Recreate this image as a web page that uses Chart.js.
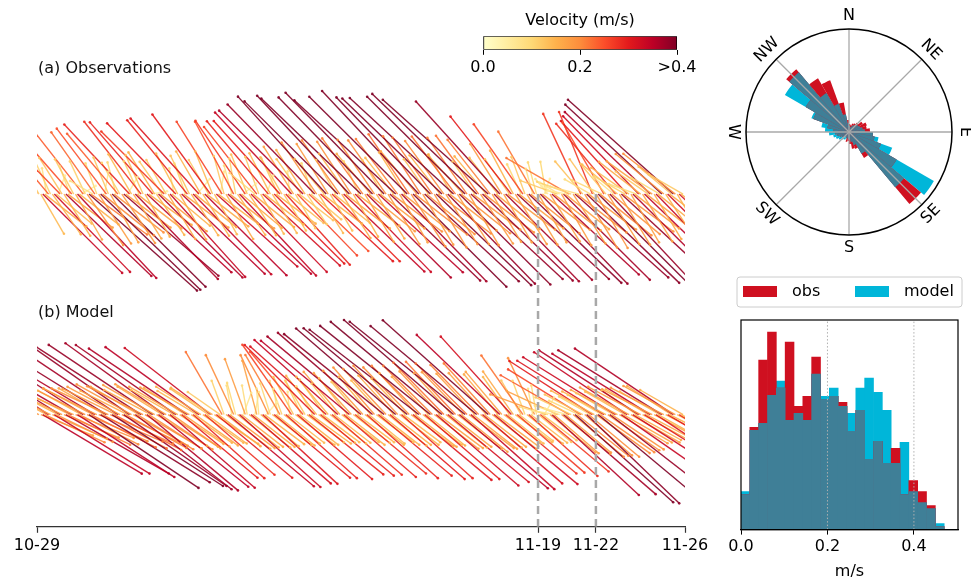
<!DOCTYPE html>
<html>
<head>
<meta charset="utf-8">
<title>Currents: observations vs model</title>
<script src="https://cdn.jsdelivr.net/npm/chart.js@4.4.1/dist/chart.umd.min.js"></script>
<style>
  html, body { margin: 0; padding: 0; background: #fff; }
  #page { position: relative; width: 971px; height: 581px; overflow: hidden; }
  #page canvas { position: absolute; }
</style>
</head>
<body>
<div id="page">
  <canvas id="sticks" width="715" height="581" style="left:0;top:0"></canvas>
  <canvas id="cbar" width="290" height="90" style="left:440px;top:0"></canvas>
  <canvas id="rose" width="251" height="265" style="left:720px;top:0"></canvas>
  <canvas id="hist" width="251" height="311" style="left:720px;top:270px"></canvas>
</div>
<script>
// sticks every 2 h from 10-29 00:00
var stepDays = 2 / 24;
var tickDays = [0, 21.65, 24.15, 28];
var tickLabels = ['10-29', '11-19', '11-22', '11-26'];
var markerDays = [21.65, 24.15];
var panelTitles = ['(a) Observations', '(b) Model'];

// speed (m/s) and direction (deg toward, clockwise from N), one row per day
var obsSpeed = [
    .25, .12, .14, .34, .16, .08, .24, .11, .15, .33, .14, .06,
    .26, .13, .15, .36, .17, .09, .25, .12, .16, .35, .15, .05,
    .24, .11, .19, .44, .21, .08, .23, .10, .18, .42, .20, .07,
    .25, .12, .17, .40, .19, .10, .24, .11, .18, .38, .17, .06,
    .29, .14, .16, .36, .17, .11, .28, .13, .15, .35, .16, .05,
    .29, .15, .15, .36, .18, .12, .27, .12, .16, .34, .15, .08,
    .30, .14, .16, .35, .17, .10, .29, .13, .15, .34, .16, .06,
    .31, .15, .15, .35, .16, .12, .30, .14, .14, .33, .15, .07,
    .26, .12, .16, .35, .17, .09, .25, .11, .15, .34, .16, .05,
    .27, .13, .15, .33, .16, .10, .26, .12, .14, .32, .15, .06,
    .29, .14, .14, .30, .15, .12, .30, .13, .13, .29, .14, .07,
    .34, .17, .12, .26, .13, .13, .36, .16, .11, .25, .12, .10,
    .38, .19, .14, .30, .15, .14, .40, .18, .13, .29, .14, .12,
    .40, .20, .16, .34, .17, .15, .41, .19, .15, .33, .16, .11,
    .42, .21, .17, .36, .18, .16, .41, .20, .16, .35, .17, .12,
    .43, .20, .18, .38, .19, .14, .42, .21, .17, .37, .18, .15,
    .42, .22, .19, .40, .20, .17, .43, .21, .18, .39, .19, .13,
    .41, .21, .19, .40, .20, .15, .42, .20, .18, .38, .18, .14,
    .43, .22, .18, .39, .19, .16, .42, .21, .18, .38, .18, .12,
    .44, .22, .18, .38, .19, .15, .43, .21, .17, .37, .17, .14,
    .38, .18, .17, .37, .18, .13, .30, .15, .18, .38, .17, .10,
    .26, .12, .18, .39, .19, .08, .22, .10, .17, .38, .18, .05,
    .10, .06, .17, .36, .18, .05, .12, .07, .18, .37, .17, .06,
    .22, .11, .18, .38, .19, .09, .27, .13, .19, .39, .18, .09,
    .27, .13, .19, .40, .20, .10, .25, .12, .18, .38, .19, .08,
    .28, .14, .18, .38, .19, .11, .30, .14, .17, .36, .17, .09,
    .33, .16, .17, .35, .17, .12, .36, .17, .16, .34, .16, .10,
    .40, .19, .16, .33, .16, .13, .43, .20, .15, .32, .15, .12
];
var obsDir = [
    318, 330, 150, 135, 128, 350, 320, 335, 145, 136, 130, 20,
    316, 328, 148, 134, 127, 340, 319, 332, 150, 137, 128, 60,
    322, 335, 145, 132, 126, 300, 325, 340, 147, 134, 129, 10,
    323, 338, 150, 135, 128, 345, 320, 330, 146, 131, 127, 30,
    317, 330, 148, 136, 128, 335, 322, 336, 150, 133, 126, 80,
    319, 328, 146, 135, 129, 325, 315, 330, 149, 138, 130, 350,
    316, 332, 150, 134, 127, 340, 321, 334, 147, 136, 129, 40,
    318, 330, 148, 135, 128, 330, 324, 338, 151, 132, 127, 10,
    328, 345, 149, 134, 128, 345, 332, 350, 146, 137, 130, 50,
    326, 338, 147, 136, 129, 310, 322, 340, 150, 133, 128, 20,
    320, 333, 148, 135, 127, 335, 318, 330, 149, 138, 129, 355,
    317, 328, 150, 136, 128, 325, 315, 327, 147, 134, 130, 340,
    316, 326, 148, 133, 127, 320, 318, 328, 149, 135, 129, 330,
    315, 325, 147, 134, 128, 325, 317, 327, 150, 136, 127, 335,
    314, 324, 149, 135, 129, 320, 316, 326, 148, 133, 128, 330,
    316, 325, 148, 134, 127, 322, 313, 323, 150, 136, 129, 328,
    315, 326, 147, 135, 128, 320, 317, 327, 149, 133, 130, 325,
    316, 325, 149, 134, 127, 322, 314, 324, 148, 136, 128, 330,
    313, 323, 148, 135, 129, 318, 315, 325, 150, 133, 127, 326,
    314, 324, 147, 134, 128, 320, 312, 322, 149, 136, 129, 322,
    318, 328, 150, 135, 127, 325, 322, 332, 148, 133, 128, 335,
    325, 340, 149, 134, 129, 345, 330, 345, 150, 136, 127, 20,
    350, 320, 148, 133, 128, 300, 290, 300, 150, 135, 129, 280,
    300, 290, 147, 132, 128, 285, 335, 320, 149, 134, 127, 300,
    338, 325, 150, 135, 129, 295, 330, 320, 148, 137, 130, 310,
    320, 310, 149, 133, 127, 300, 318, 305, 150, 135, 128, 290,
    316, 308, 148, 134, 128, 305, 314, 306, 149, 136, 129, 300,
    313, 310, 147, 135, 127, 310, 312, 308, 150, 134, 128, 300
];
var modSpeed = [
    .36, .18, .17, .35, .20, .16, .35, .17, .18, .34, .19, .15,
    .37, .18, .18, .36, .21, .16, .36, .17, .19, .35, .20, .15,
    .37, .19, .20, .40, .22, .17, .36, .18, .21, .39, .22, .16,
    .38, .19, .21, .40, .23, .18, .37, .18, .20, .38, .21, .16,
    .38, .19, .19, .37, .20, .17, .38, .19, .20, .36, .19, .16,
    .38, .18, .18, .35, .19, .16, .37, .18, .18, .34, .18, .15,
    .37, .17, .16, .30, .17, .15, .36, .17, .15, .29, .16, .14,
    .35, .16, .15, .28, .15, .14, .33, .15, .16, .30, .16, .12,
    .22, .11, .17, .34, .17, .09, .20, .10, .16, .33, .16, .07,
    .18, .09, .16, .32, .16, .07, .17, .08, .15, .31, .15, .05,
    .20, .10, .15, .30, .15, .08, .21, .11, .14, .29, .14, .07,
    .26, .13, .15, .30, .15, .11, .25, .12, .14, .29, .15, .10,
    .30, .15, .14, .29, .14, .13, .31, .15, .14, .28, .14, .12,
    .34, .17, .14, .29, .15, .14, .35, .17, .14, .28, .14, .13,
    .37, .18, .15, .29, .14, .15, .38, .19, .14, .29, .15, .14,
    .39, .19, .15, .30, .15, .16, .40, .20, .15, .29, .14, .15,
    .41, .20, .16, .31, .16, .17, .42, .21, .15, .30, .15, .16,
    .43, .21, .17, .33, .17, .18, .44, .22, .16, .32, .16, .17,
    .44, .22, .17, .35, .18, .18, .45, .22, .17, .34, .17, .17,
    .42, .21, .16, .32, .16, .17, .43, .21, .17, .33, .16, .16,
    .35, .17, .14, .28, .14, .14, .32, .16, .14, .27, .13, .12,
    .22, .11, .14, .28, .14, .08, .19, .09, .13, .27, .13, .06,
    .18, .09, .18, .36, .18, .07, .17, .08, .19, .37, .18, .07,
    .24, .12, .20, .40, .20, .10, .26, .13, .19, .39, .20, .11,
    .30, .15, .20, .40, .20, .12, .31, .15, .19, .38, .19, .13,
    .33, .16, .17, .34, .17, .14, .34, .17, .17, .33, .16, .13,
    .36, .18, .16, .31, .16, .15, .35, .17, .16, .31, .15, .14,
    .37, .18, .15, .30, .15, .16, .36, .18, .15, .29, .14, .15
];
var modDir = [
    301, 295, 112, 121, 115, 298, 303, 296, 114, 122, 116, 297,
    302, 296, 113, 120, 116, 297, 300, 294, 112, 123, 117, 299,
    303, 297, 114, 124, 117, 298, 301, 296, 113, 122, 118, 300,
    302, 295, 115, 123, 118, 296, 304, 298, 116, 125, 119, 297,
    305, 299, 120, 128, 122, 300, 303, 297, 121, 130, 123, 298,
    304, 300, 122, 129, 124, 302, 306, 301, 123, 131, 125, 300,
    305, 300, 124, 130, 125, 303, 304, 299, 125, 132, 126, 301,
    306, 302, 125, 131, 126, 304, 308, 303, 124, 130, 127, 305,
    330, 340, 128, 130, 127, 350, 335, 345, 129, 132, 128, 20,
    340, 350, 129, 131, 128, 10, 345, 355, 130, 133, 127, 40,
    335, 342, 128, 130, 129, 350, 330, 340, 129, 132, 128, 355,
    325, 332, 128, 131, 128, 335, 320, 330, 127, 129, 126, 330,
    315, 322, 128, 130, 127, 325, 312, 320, 129, 131, 128, 322,
    312, 320, 127, 131, 128, 322, 310, 318, 128, 130, 127, 320,
    310, 318, 128, 132, 129, 320, 311, 319, 127, 130, 128, 318,
    309, 317, 129, 131, 128, 318, 311, 318, 128, 132, 127, 317,
    310, 316, 127, 130, 128, 318, 308, 315, 128, 131, 129, 316,
    309, 315, 128, 131, 127, 317, 310, 316, 129, 130, 128, 318,
    311, 317, 128, 130, 129, 316, 309, 315, 127, 132, 128, 317,
    310, 316, 129, 131, 128, 318, 312, 318, 128, 130, 127, 320,
    314, 320, 128, 130, 129, 325, 318, 325, 127, 131, 128, 330,
    325, 340, 129, 132, 128, 350, 335, 350, 130, 130, 127, 30,
    290, 285, 130, 133, 131, 280, 295, 290, 129, 131, 130, 285,
    300, 296, 130, 132, 129, 295, 302, 298, 131, 134, 130, 300,
    303, 299, 126, 130, 125, 300, 302, 298, 125, 128, 124, 300,
    302, 298, 121, 125, 120, 300, 304, 299, 120, 123, 119, 305,
    303, 298, 119, 122, 118, 301, 302, 297, 118, 124, 119, 300,
    302, 297, 118, 121, 117, 303, 304, 299, 119, 122, 118, 300
];

// colorbar
var cbarTicks = [0, 0.2, 0.4];
var cbarLabels = ['0.0', '0.2', '>0.4'];

// rose, 36 sectors of 10 deg clockwise from N
var roseObs = [8, 7, 9, 10, 12, 16, 19, 18, 21, 24, 26, 34, 55, 94, 30, 18, 17, 12,
               9, 10, 6, 5, 6, 8, 10, 12, 14, 16, 22, 38, 50, 82, 62, 55, 30, 12];
var roseModel = [6, 5, 6, 8, 9, 11, 12, 14, 16, 24, 30, 46, 98, 72, 25, 14, 10, 8,
                 7, 6, 8, 9, 10, 12, 14, 16, 20, 24, 28, 40, 74, 78, 45, 30, 18, 9];
var compassLabels = ['N', 'NE', 'E', 'SE', 'S', 'SW', 'W', 'NW'];

// speed histogram, 23 bins from 0 to 0.47 m/s
var histObs = [35, 102, 169, 197, 141, 187, 123, 133, 172, 130, 133, 127,
               98, 119, 70, 88, 66, 81, 35, 49, 38, 24, 3];
var histModel = [38, 99, 106, 134, 148, 109, 116, 109, 155, 133, 141, 123,
                 116, 141, 151, 137, 119, 66, 87, 38, 27, 21, 6];
var histTicks = [0, 0.2, 0.4];
var histGuides = [0.2, 0.4];

var RED = '#cf1020', CYAN = '#00b6d9', TEAL = '#3f7f97';
var ylorrd = ['#ffffcc', '#ffeda0', '#fed976', '#feb24c', '#fd8d3c', '#fc4e2a', '#e31a1c', '#bd0026', '#800026'];

Chart.defaults.font.family = 'DejaVu Sans';
Chart.defaults.font.size = 16;
Chart.defaults.color = '#000';

function hexRgb(h) {
    return [parseInt(h.substr(1, 2), 16), parseInt(h.substr(3, 2), 16), parseInt(h.substr(5, 2), 16)];
}

function speedColor(s, alpha) {
    var f = Math.min(Math.max(s / 0.4, 0), 1) * (ylorrd.length - 1);
    var i = Math.min(Math.floor(f), ylorrd.length - 2), w = f - i;
    var a = hexRgb(ylorrd[i]), b = hexRgb(ylorrd[i + 1]);
    var rgb = [0, 1, 2].map(function (k) { return Math.round(a[k] + (b[k] - a[k]) * w); });
    return 'rgba(' + rgb.join(',') + ',' + alpha + ')';
}

// ---- stick plots ----
var K = 330;                 // px per m/s on both axes
var PX_PER_DAY = 648 / 28;
var Y_MAX = 470 / K;
var obsBase = 335 / K, modBase = 113 / K;

function buildSticks(speed, dir, base) {
    var pts = [], cols = [];
    for (var i = 0; i < speed.length; i++) {
        var t = i * stepDays, r = dir[i] * Math.PI / 180;
        var east = speed[i] * Math.sin(r), north = speed[i] * Math.cos(r);
        pts.push({ x: t, y: base }, { x: t + east * K / PX_PER_DAY, y: base + north }, { x: t, y: null });
        cols.push(speedColor(speed[i], 0.9));
    }
    return { pts: pts, cols: cols };
}

function stickDataset(s) {
    return {
        data: s.pts,
        order: 1,
        borderWidth: 1.4,
        borderColor: '#800026',
        spanGaps: false,
        tension: 0,
        pointRadius: function (c) { return c.dataIndex % 3 === 1 ? 1.3 : 0; },
        pointBackgroundColor: function (c) { return s.cols[Math.floor(c.dataIndex / 3)]; },
        pointBorderWidth: 0,
        segment: {
            borderColor: function (c) { return s.cols[Math.floor(c.p0DataIndex / 3)]; }
        }
    };
}

var markerSets = markerDays.map(function (d) {
    return {
        data: [{ x: d, y: obsBase }, { x: d, y: 0 }],
        borderColor: '#a8a8a8',
        borderWidth: 2.5,
        borderDash: [8, 5],
        pointRadius: 0,
        order: 0
    };
});

var panelLabels = {
    id: 'panelLabels',
    afterDraw: function (chart) {
        var c = chart.ctx;
        c.save();
        c.font = '16px "DejaVu Sans"';
        c.fillStyle = '#111';
        c.fillText(panelTitles[0], 38, 73);
        c.fillText(panelTitles[1], 38, 317);
        c.restore();
    }
};

new Chart(document.getElementById('sticks'), {
    type: 'line',
    data: {
        datasets: [
            stickDataset(buildSticks(obsSpeed, obsDir, obsBase)),
            stickDataset(buildSticks(modSpeed, modDir, modBase))
        ].concat(markerSets)
    },
    options: {
        responsive: false,
        animation: false,
        layout: { padding: { left: 37, right: 30, top: 60, bottom: 23 } },
        plugins: { legend: { display: false }, tooltip: { enabled: false } },
        scales: {
            x: {
                type: 'linear',
                min: 0,
                max: 28,
                afterBuildTicks: function (s) {
                    s.ticks = tickDays.map(function (v) { return { value: v }; });
                },
                ticks: {
                    autoSkip: false,
                    maxRotation: 0,
                    padding: 3,
                    callback: function (v, i) { return tickLabels[i]; }
                },
                grid: { drawOnChartArea: false, tickLength: 6, color: '#333', tickWidth: 1.2 },
                border: { display: true, color: '#333', width: 1.3 }
            },
            y: { display: false, min: 0, max: Y_MAX }
        }
    },
    plugins: [panelLabels]
});

// ---- colorbar ----
new Chart(document.getElementById('cbar'), {
    type: 'bar',
    data: {
        labels: [''],
        datasets: [{
            data: [[0, 0.4]],
            backgroundColor: function (ctx) {
                var area = ctx.chart.chartArea;
                if (!area) return null;
                var g = ctx.chart.ctx.createLinearGradient(area.left, 0, area.right, 0);
                ylorrd.forEach(function (c, i) { g.addColorStop(i / (ylorrd.length - 1), c); });
                return g;
            },
            borderColor: '#000',
            borderWidth: 1,
            borderSkipped: false,
            barPercentage: 1,
            categoryPercentage: 1
        }]
    },
    options: {
        indexAxis: 'y',
        responsive: false,
        animation: false,
        layout: { padding: { left: 43, right: 53, top: 0, bottom: 10 } },
        plugins: {
            legend: { display: false },
            tooltip: { enabled: false },
            title: {
                display: true,
                text: 'Velocity (m/s)',
                font: { size: 16, weight: 'normal' },
                color: '#000',
                padding: { top: 11, bottom: 6 }
            }
        },
        scales: {
            x: {
                type: 'linear',
                min: 0,
                max: 0.4,
                afterBuildTicks: function (s) {
                    s.ticks = cbarTicks.map(function (v) { return { value: v }; });
                },
                ticks: {
                    padding: 3,
                    callback: function (v, i) { return cbarLabels[i]; }
                },
                grid: { drawOnChartArea: false, tickLength: 5, color: '#000' },
                border: { display: false }
            },
            y: { display: false }
        }
    }
});

// ---- current rose ----
var compass = {
    id: 'compass',
    afterDatasetsDraw: function (chart) {
        var s = chart.scales.r, c = chart.ctx;
        var cx = s.xCenter, cy = s.yCenter, R = s.drawingArea;
        c.save();
        c.strokeStyle = '#a9a9a9';
        c.lineWidth = 1.3;
        for (var k = 0; k < 8; k++) {
            var a = k * Math.PI / 4;
            c.beginPath();
            c.moveTo(cx, cy);
            c.lineTo(cx + R * Math.sin(a), cy - R * Math.cos(a));
            c.stroke();
        }
        c.strokeStyle = '#000';
        c.lineWidth = 1.5;
        c.beginPath();
        c.arc(cx, cy, R, 0, 2 * Math.PI);
        c.stroke();
        c.fillStyle = '#000';
        c.font = '16px "DejaVu Sans"';
        c.textAlign = 'center';
        c.textBaseline = 'middle';
        compassLabels.forEach(function (lab, k) {
            var deg = k * 45, rad = deg * Math.PI / 180;
            var rot = (deg > 90 && deg <= 270) ? deg - 180 : (deg > 270 ? deg - 360 : deg);
            c.save();
            c.translate(cx + (R + 13) * Math.sin(rad), cy - (R + 13) * Math.cos(rad));
            c.rotate(rot * Math.PI / 180);
            c.fillText(lab, 0, 0);
            c.restore();
        });
        c.restore();
    }
};

new Chart(document.getElementById('rose'), {
    type: 'polarArea',
    data: {
        labels: roseObs.map(function (v, i) { return (i * 10) + '°'; }),
        datasets: [
            { label: 'both', data: roseObs.map(function (v, i) { return Math.min(v, roseModel[i]); }), backgroundColor: TEAL, order: 0 },
            { label: 'obs', data: roseObs, backgroundColor: RED, order: 1 },
            { label: 'model', data: roseModel, backgroundColor: CYAN, order: 2 }
        ]
    },
    options: {
        responsive: false,
        animation: false,
        layout: { padding: { left: 26, top: 29, right: 19, bottom: 30 } },
        elements: { arc: { borderWidth: 0 } },
        plugins: { legend: { display: false }, tooltip: { enabled: false } },
        scales: {
            r: {
                min: 0,
                max: 103,
                ticks: { display: false },
                grid: { display: false },
                angleLines: { display: false },
                pointLabels: { display: false }
            }
        }
    },
    plugins: [compass]
});

// ---- speed histogram ----
var binW = 0.47 / histObs.length;
function binPoints(vals) {
    return vals.map(function (v, i) { return { x: (i + 0.5) * binW, y: v }; });
}

var histDecor = {
    id: 'histDecor',
    afterDraw: function (chart) {
        var c = chart.ctx, a = chart.chartArea;
        c.save();
        c.strokeStyle = '#000';
        c.lineWidth = 1.2;
        c.strokeRect(a.left, a.top, a.right - a.left, a.bottom - a.top);

        var x0 = a.left - 4, y0 = a.top - 43, w = a.right - a.left + 8, h = 30, r = 3;
        c.strokeStyle = '#cccccc';
        c.lineWidth = 1;
        c.beginPath();
        c.moveTo(x0 + r, y0);
        c.lineTo(x0 + w - r, y0);
        c.arcTo(x0 + w, y0, x0 + w, y0 + r, r);
        c.lineTo(x0 + w, y0 + h - r);
        c.arcTo(x0 + w, y0 + h, x0 + w - r, y0 + h, r);
        c.lineTo(x0 + r, y0 + h);
        c.arcTo(x0, y0 + h, x0, y0 + h - r, r);
        c.lineTo(x0, y0 + r);
        c.arcTo(x0, y0, x0 + r, y0, r);
        c.stroke();

        var items = [chart.data.datasets[1], chart.data.datasets[2]];
        var offs = [6, 118];
        c.font = '16px "DejaVu Sans"';
        c.textBaseline = 'middle';
        items.forEach(function (ds, i) {
            c.fillStyle = ds.backgroundColor;
            c.fillRect(x0 + offs[i], y0 + 9, 34, 11);
            c.fillStyle = '#000';
            c.fillText(ds.label, x0 + offs[i] + 49, y0 + 15);
        });
        c.restore();
    }
};

new Chart(document.getElementById('hist'), {
    type: 'bar',
    data: {
        datasets: [
            { label: 'both', data: binPoints(histObs.map(function (v, i) { return Math.min(v, histModel[i]); })), backgroundColor: TEAL, grouped: false, order: 0, barPercentage: 1, categoryPercentage: 1 },
            { label: 'obs', data: binPoints(histObs), backgroundColor: RED, grouped: false, order: 1, barPercentage: 1, categoryPercentage: 1 },
            { label: 'model', data: binPoints(histModel), backgroundColor: CYAN, grouped: false, order: 2, barPercentage: 1, categoryPercentage: 1 }
        ].concat(histGuides.map(function (g) {
            return {
                type: 'line',
                label: 'guide',
                data: [{ x: g, y: 0 }, { x: g, y: 209 }],
                borderColor: '#b0b0b0',
                borderWidth: 1,
                borderDash: [1.5, 2],
                pointRadius: 0,
                order: -1
            };
        }))
    },
    options: {
        responsive: false,
        animation: false,
        layout: { padding: { left: 21, right: 13, top: 50, bottom: 0 } },
        plugins: { legend: { display: false }, tooltip: { enabled: false } },
        scales: {
            x: {
                type: 'linear',
                offset: false,
                min: 0,
                max: 0.502,
                afterBuildTicks: function (s) {
                    s.ticks = histTicks.map(function (v) { return { value: v }; });
                },
                ticks: {
                    padding: 3,
                    callback: function (v) { return v.toFixed(1); }
                },
                title: { display: true, text: 'm/s', padding: { top: 2, bottom: 0 } },
                grid: { offset: false, drawOnChartArea: false, tickLength: 5, color: '#000' },
                border: { display: true, color: '#000', width: 1.2 }
            },
            y: { display: false, min: 0, max: 209 }
        }
    },
    plugins: [histDecor]
});
</script>
</body>
</html>
